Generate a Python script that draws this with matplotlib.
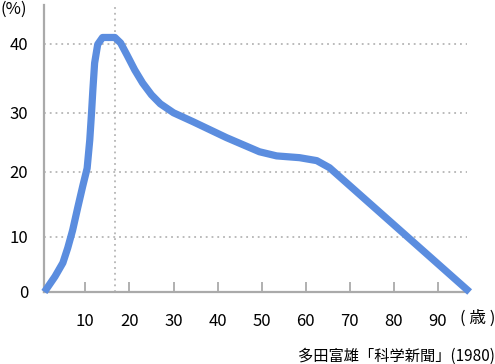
import numpy as np
import matplotlib as mpl
mpl.use('Agg')
import matplotlib.pyplot as plt
from matplotlib.scale import FuncScale

plt.rcParams['font.family'] = ['Noto Sans CJK JP', 'DejaVu Sans']

# Data
ages = [0.7, 3.1, 4.9, 6.0, 7.1, 8.3, 9.4, 10.4, 11.0, 11.4, 11.7, 12.1,
        12.8, 13.9, 16.7, 18.0, 19.5, 21.2, 23.0, 25.0, 27.0, 30.0, 34.4,
        42.0, 49.5, 53.4, 58.6, 62.5, 65.4, 97.2]
rates = [0.0, 2.8, 5.3, 8.0, 11.0, 14.6, 17.8, 20.6, 25.4, 30.0, 33.3, 37.2,
         39.9, 40.9, 40.9, 40.1, 38.3, 36.2, 34.3, 32.6, 31.3, 30.0, 28.5,
         25.8, 23.4, 22.7, 22.4, 21.9, 20.7, 0.0]
peak_age = 16.7
x_ticks = [10, 20, 30, 40, 50, 60, 70, 80, 90]
y_ticks = [0, 10, 20, 30, 40]
source = '多田富雄「科学新聞」(1980)'

# the original y axis is slightly uneven: map values to the drawn grid spacing
y_in = [0, 10, 20, 30, 40, 50]
y_out = [0, 55, 120, 179, 248, 317]


def fwd(v):
    return np.interp(v, y_in, y_out, left=-1e3, right=1e3)


def inv(v):
    return np.interp(v, y_out, y_in)


line_c = '#5b8ddf'
axis_c = '#aaaaaa'
grid_c = '#b5b5b5'

W, H = 495, 364
fig = plt.figure(figsize=(W / 100, H / 100), dpi=100)
ax = fig.add_axes([43.5 / W, (H - 292) / H, (467 - 43.5) / W, (292 - 5) / H])
ax.set_yscale(FuncScale(ax, (fwd, inv)))
ax.set_xlim(0.5, 96.6)
ax.set_ylim(0, 45.6)

for v in y_ticks[1:]:
    ax.axhline(v, color=grid_c, lw=1.3, ls=(0, (1, 2.2)), zorder=1)
ax.axvline(peak_age, color=grid_c, lw=1.3, ls=(0, (1, 2.2)), zorder=1)

ax.plot(ages, rates, color=line_c, lw=5.2, solid_joinstyle='round',
        solid_capstyle='butt', clip_on=False, zorder=3)

for s in ['top', 'right']:
    ax.spines[s].set_visible(False)
for s in ['left', 'bottom']:
    ax.spines[s].set_color(axis_c)
    ax.spines[s].set_linewidth(1.6)

ax.set_xticks(x_ticks)
ax.set_xticklabels([str(t) for t in x_ticks])
ax.tick_params(axis='x', direction='in', length=7.5, width=1.3, color=axis_c,
               pad=15, labelsize=12)
ax.set_yticks(y_ticks)
ax.set_yticklabels([str(t) for t in y_ticks])
ax.tick_params(axis='y', length=0, pad=11, labelsize=12)
ax.yaxis.set_minor_locator(mpl.ticker.NullLocator())

fig.text(0.0, 1 - 9 / H, '(%)', fontsize=12, ha='left', va='center')
fig.text(478 / W, 1 - 318 / H, '( 歳 )', fontsize=12, ha='center', va='center')
fig.text(1.0, 1 - 356 / H, source, fontsize=11, ha='right', va='center')

fig.savefig('out.png', dpi=100)
plt.close()
